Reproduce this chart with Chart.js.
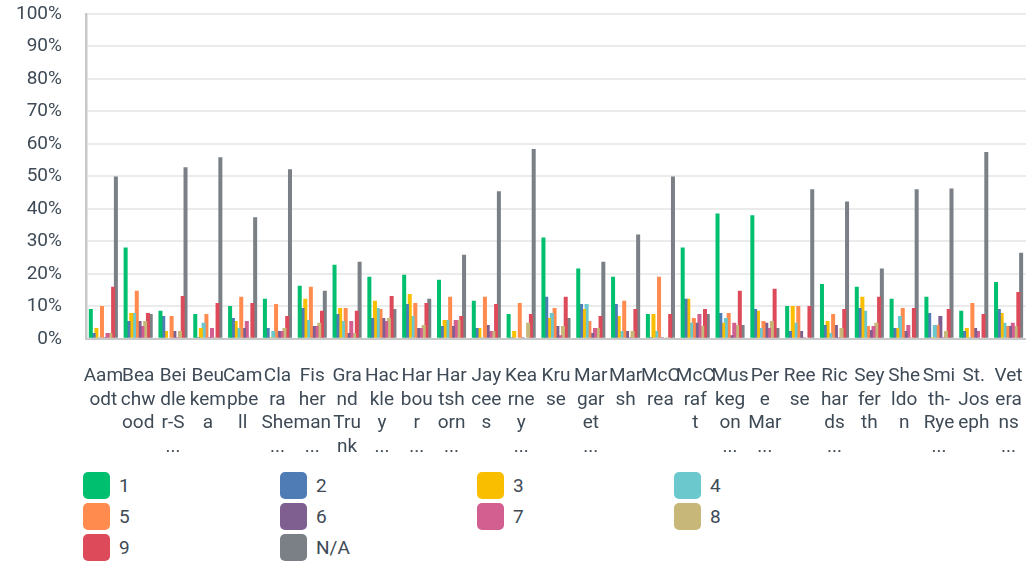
<!DOCTYPE html>
<html>
<head>
<meta charset="utf-8">
<script src="https://cdn.jsdelivr.net/npm/chart.js@4"></script>
<style>
  body { margin: 0; background: #fff; font-family: Roboto, sans-serif; }
  #wrap { position: relative; width: 1026px; height: 564px; }
  #legend { position: absolute; left: 83px; top: 472px; display: grid; grid-template-columns: repeat(4, 197px); row-gap: 4px; }
  .item { display: flex; align-items: center; height: 27px; font-size: 19px; color: #3e4a56; }
  .box { width: 27px; height: 27px; border-radius: 5px; margin-right: 9px; }
</style>
</head>
<body>
<div id="wrap">
  <canvas id="myChart" width="1026" height="459"></canvas>
  <div id="legend"></div>
</div>
<script>
const categories = [
  ['Aam', 'odt'],
  ['Bea', 'chw', 'ood'],
  ['Bei', 'dle', 'r-S', '...'],
  ['Beu', 'kem', 'a'],
  ['Cam', 'pbe', 'll'],
  ['Cla', 'ra', 'She', '...'],
  ['Fis', 'her', 'man', '...'],
  ['Gra', 'nd', 'Tru', 'nk'],
  ['Hac', 'kle', 'y', '...'],
  ['Har', 'bou', 'r', '...'],
  ['Har', 'tsh', 'orn', '...'],
  ['Jay', 'cee', 's'],
  ['Kea', 'rne', 'y', '...'],
  ['Kru', 'se'],
  ['Mar', 'gar', 'et', '...'],
  ['Mar', 'sh'],
  ['McC', 'rea'],
  ['McC', 'raf', 't'],
  ['Mus', 'keg', 'on', '...'],
  ['Per', 'e', 'Mar', '...'],
  ['Ree', 'se'],
  ['Ric', 'har', 'ds', '...'],
  ['Sey', 'fer', 'th'],
  ['She', 'ldo', 'n'],
  ['Smi', 'th-', 'Rye', '...'],
  ['St.', 'Jos', 'eph'],
  ['Vet', 'era', 'ns', '...']
];

const seriesNames = ['1', '2', '3', '4', '5', '6', '7', '8', '9', 'N/A'];

const values1  = [9.2, 28.1, 8.6, 7.6, 10.1, 12.3, 16.3, 22.8, 19.1, 19.7, 18.2, 11.7, 7.6, 31.2, 21.6, 19.1, 7.6, 28.1, 38.6, 38.0, 10.1, 16.9, 16.0, 12.3, 12.9, 8.6, 17.5];
const values2  = [1.8, 5.5, 7.0, 0.5, 6.4, 3.3, 9.5, 7.6, 6.4, 10.7, 3.9, 3.3, 0.5, 12.9, 10.7, 10.7, 0.5, 12.3, 7.9, 9.2, 2.4, 4.2, 9.5, 3.3, 7.9, 2.4, 9.2];
const values3  = [3.3, 7.9, 2.4, 3.3, 5.5, 0.5, 12.3, 9.5, 11.7, 13.8, 5.8, 3.3, 2.4, 6.4, 9.2, 7.0, 7.6, 12.3, 4.9, 8.6, 10.1, 5.5, 12.9, 3.3, 0.5, 3.3, 7.9];
const values4  = [0.5, 7.9, 0, 4.9, 3.3, 2.4, 5.8, 5.5, 9.5, 7.0, 5.8, 0.5, 0, 7.9, 10.7, 2.4, 2.4, 4.9, 6.4, 3.3, 4.9, 1.8, 8.6, 7.0, 4.2, 0.5, 4.9];
const values5  = [10.1, 14.8, 7.0, 7.6, 12.9, 10.7, 16.0, 9.5, 9.2, 11.0, 12.9, 12.9, 11.0, 9.5, 5.5, 11.7, 19.1, 6.4, 7.9, 5.5, 10.1, 7.6, 3.9, 9.5, 4.2, 11.0, 3.9];
const values6  = [0.5, 5.5, 2.4, 0.5, 3.3, 2.4, 3.9, 1.8, 6.4, 3.3, 3.9, 4.2, 0.5, 3.9, 1.8, 2.4, 0.5, 4.9, 1.1, 4.9, 2.4, 4.2, 2.7, 2.4, 7.0, 3.3, 3.9];
const values7  = [1.8, 3.9, 0.5, 3.3, 5.5, 2.4, 3.9, 5.5, 5.5, 3.3, 5.8, 2.4, 0, 1.1, 3.3, 0.5, 0, 7.6, 4.9, 3.3, 0.5, 0.5, 3.9, 4.2, 0.5, 2.4, 4.9];
const values8  = [1.8, 5.5, 2.4, 0.5, 0.5, 3.3, 4.9, 1.8, 6.4, 4.2, 5.8, 2.4, 4.9, 3.9, 3.3, 2.4, 0.5, 3.9, 4.2, 5.5, 0, 3.3, 4.9, 0.5, 2.4, 0, 3.9];
const values9  = [16.0, 7.9, 13.2, 11.0, 11.0, 7.0, 8.6, 8.6, 13.2, 11.0, 7.0, 10.7, 7.6, 12.9, 7.0, 9.2, 7.6, 9.2, 14.8, 15.4, 10.1, 9.2, 12.9, 9.5, 9.2, 7.6, 14.4];
const valuesNA = [50.0, 7.6, 52.8, 55.9, 37.4, 52.2, 14.8, 23.7, 9.2, 12.3, 25.9, 45.4, 58.4, 6.4, 23.7, 32.1, 50.0, 7.6, 4.2, 3.3, 46.0, 42.3, 21.6, 46.0, 46.3, 57.5, 26.5];

const seriesColors = ['#00bf6f', '#507cb6', '#f9be00', '#6bc8cd', '#ff8b4f', '#7f5f90', '#d25f90', '#c7b879', '#dd4b5b', '#7a8086'];

const allValues = [values1, values2, values3, values4, values5, values6, values7, values8, values9, valuesNA];
const textColor = '#3e4a56';

const datasets = seriesNames.map((name, i) => ({
  label: name,
  data: allValues[i],
  backgroundColor: seriesColors[i],
  borderWidth: 0,
  categoryPercentage: 0.8,
  barPercentage: 1.44
}));

// tick padding also pads the chart area in Chart.js, so the gap is made with invisible tick marks
new Chart(document.getElementById('myChart').getContext('2d'), {
  type: 'bar',
  data: {
    labels: categories,
    datasets: datasets
  },
  options: {
    responsive: false,
    animation: false,
    devicePixelRatio: 1,
    layout: { padding: { left: 16, top: 14, right: 0, bottom: 0 } },
    plugins: {
      legend: { display: false },
      tooltip: { enabled: false }
    },
    scales: {
      x: {
        grid: { display: true, drawOnChartArea: false, color: 'transparent', tickColor: 'transparent', tickLength: 26 },
        border: { color: '#c8c8c8', width: 2 },
        ticks: {
          autoSkip: false,
          maxRotation: 0,
          minRotation: 0,
          padding: 0,
          color: textColor,
          font: { family: 'Roboto', size: 19, lineHeight: 1.24 }
        }
      },
      y: {
        min: 0,
        max: 100,
        grid: { color: '#ebebeb', lineWidth: 2, tickColor: 'transparent', tickLength: 24 },
        border: { color: '#c8c8c8', width: 2.5 },
        ticks: {
          stepSize: 10,
          padding: 0,
          color: textColor,
          font: { family: 'Roboto', size: 19 },
          callback: v => v + '%'
        }
      }
    }
  }
});

const legend = document.getElementById('legend');
seriesNames.forEach((name, i) => {
  const item = document.createElement('div');
  item.className = 'item';
  item.innerHTML = '<span class="box" style="background:' + seriesColors[i] + '"></span>' + name;
  legend.appendChild(item);
});
</script>
</body>
</html>
